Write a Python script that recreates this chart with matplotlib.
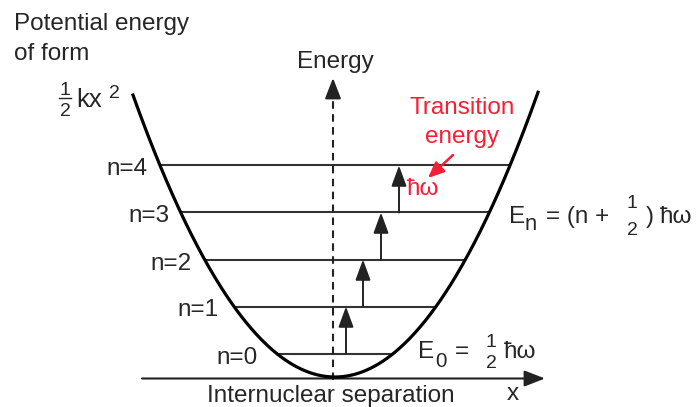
import numpy as np
import matplotlib
matplotlib.use("Agg")
import matplotlib.pyplot as plt

# ---- data (physics units: x in arbitrary displacement units, E in units of hbar*omega)
levels_n = [0, 1, 2, 3, 4]
level_energy = [0.5, 1.5, 2.5, 3.5, 4.5]
level_labels = ["n=0", "n=1", "n=2", "n=3", "n=4"]
spring_k = 2.94            # E = 1/2 k x^2
curve_x_range = [-2.02, 2.03]
arrow_x = [0.11, 0.28, 0.46, 0.64]   # x positions of transition arrows (n -> n+1)
energy_axis_x = -0.02

# ---- layout helpers (pixel layout -> data coordinates)
W, H = 699, 407
X0, SX = 335.0, 100.0
Y0, SY = 377.0, 47.0
def P(xp, yp):
    return (xp - X0) / SX, (Y0 - yp) / SY

FONT = 'Liberation Sans'
FS = 17.5
FR = 14   # fraction digit size
TXT = '#262626'
RED = '#f81e34'

fig = plt.figure(figsize=(W / 100, H / 100), dpi=100)
ax = fig.add_axes([0, 0, 1, 1])
ax.set_xlim(P(0, 0)[0], P(W, 0)[0])
ax.set_ylim(P(0, H)[1], P(0, 0)[1])
ax.axis('off')

def T(xp, yp, s, ha='left', va='baseline', fs=FS, color=TXT):
    ax.text(*P(xp, yp), s, ha=ha, va=va, fontsize=fs, family=FONT, color=color)

# energy levels clipped by the parabola
for E in level_energy:
    hw = np.sqrt(2 * E / spring_k)
    ax.plot([-hw, hw], [E, E], color='#333333', lw=1.5, solid_capstyle='butt', zorder=2)

# parabola
xs = np.linspace(curve_x_range[0], curve_x_range[1], 400)
ax.plot(xs, 0.5 * spring_k * xs ** 2, color='black', lw=2.3, zorder=4)

arrow_style = '-|>,head_length=0.9,head_width=0.35'
# horizontal axis (internuclear separation)
ax.annotate('', xy=P(545, 378.5), xytext=P(142, 378.5),
            arrowprops=dict(arrowstyle=arrow_style, color='#222222', lw=1.5,
                            shrinkA=0, shrinkB=0, mutation_scale=14), zorder=3)

# dashed energy axis
ax.plot([energy_axis_x, energy_axis_x], [P(0, 380)[1], P(0, 92)[1]], color='#222222',
        lw=1.5, dashes=[3.6, 2.6], zorder=3)
ax.annotate('', xy=(energy_axis_x, P(0, 78)[1]), xytext=(energy_axis_x, P(0, 94)[1]),
            arrowprops=dict(arrowstyle=arrow_style, color='#222222', lw=1.5,
                            shrinkA=0, shrinkB=0, mutation_scale=14), zorder=3)

# transition arrows n -> n+1
for i, xa in enumerate(arrow_x):
    ax.annotate('', xy=(xa, level_energy[i + 1]), xytext=(xa, level_energy[i]),
                arrowprops=dict(arrowstyle='-|>,head_length=0.9,head_width=0.33',
                                color='#222222', lw=1.4, shrinkA=0, shrinkB=0,
                                mutation_scale=14), zorder=3)

# level labels
label_right = [258, 219, 192, 170, 148]
for E, lab, xr in zip(level_energy, level_labels, label_right):
    T(xr, Y0 - E * SY + 4, lab, ha='right', va='center')

# top-left title
T(14, 24, "Potential energy", va='center')
T(14, 54, "of form", va='center')
# 1/2 k x^2
T(65, 95, "1", ha='center', fs=FR)
T(65, 116, "2", ha='center', fs=FR)
ax.plot(*zip(P(59, 98.5), P(71, 98.5)), color=TXT, lw=1.0)
T(76, 107, "kx", fs=18.5)
T(109, 98, "2", fs=FR)

# energy axis label
T(335, 62, "Energy", ha='center', va='center')

# red transition annotation
T(462, 108, "Transition", ha='center', va='center', color=RED)
T(462, 137, "energy", ha='center', va='center', color=RED)
T(407, 189, "ħω", va='center', color=RED)
ax.annotate('', xy=P(428, 178), xytext=P(453, 155),
            arrowprops=dict(arrowstyle='-|>,head_length=0.8,head_width=0.35',
                            color=RED, lw=1.8, shrinkA=0, shrinkB=0, mutation_scale=12))

# E_n = (n + 1/2) hbar omega
T(509, 223, "E")
T(525, 230, "n", fs=FS * 0.9)
T(546, 223, "= (n +")
T(632, 208, "1", ha='center', fs=FR)
T(632, 235, "2", ha='center', fs=FR)
T(646, 223, ")")
T(660, 223, "ħω")

# E_0 = 1/2 hbar omega
T(418, 358, "E")
T(435, 367, "0", fs=FS * 0.85)
T(455, 358, "=")
T(491, 347, "1", ha='center', fs=FR)
T(491, 368, "2", ha='center', fs=FR)
T(504, 358, "ħω")

# axis labels
T(331, 396, "Internuclear separation", ha='center', va='center')
T(513, 400, "x", ha='center')

fig.savefig('out.png', dpi=100)
